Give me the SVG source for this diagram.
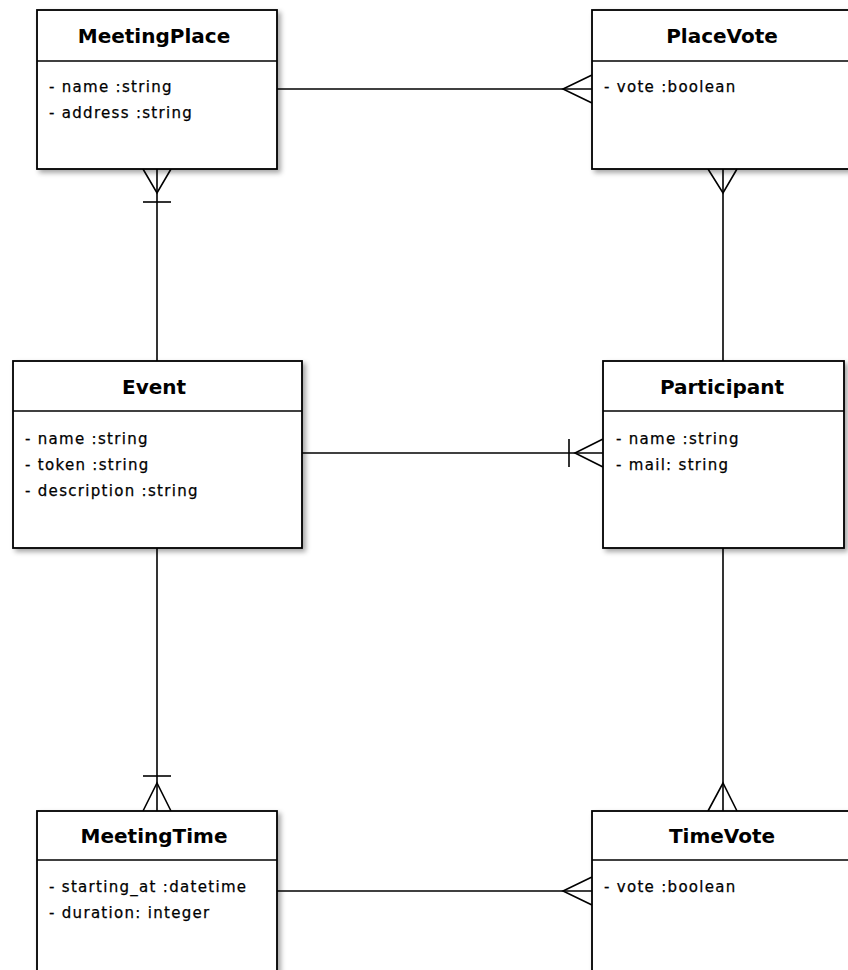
<svg xmlns="http://www.w3.org/2000/svg" width="848" height="970" viewBox="0 0 848 970">
  <defs>
    <filter id="shadow" x="-10%" y="-10%" width="130%" height="130%">
      <feDropShadow dx="3" dy="3" stdDeviation="2.5" flood-color="#000" flood-opacity="0.35"/>
    </filter>
    <style>
      .box { fill: #ffffff; stroke: #000000; stroke-width: 1.8; filter: url(#shadow); }
      .div { stroke: #000000; stroke-width: 1.6; fill: none; }
      .title { font-family: "DejaVu Sans", Verdana, sans-serif; font-weight: bold; font-size: 20px; fill: #000; text-anchor: middle; }
      .attr { font-family: "DejaVu Sans", Verdana, sans-serif; font-size: 15px; letter-spacing: 1.3px; fill: #000; stroke: #000; stroke-width: 0.25; }
      .conn { stroke: #000000; stroke-width: 1.6; fill: none; }
    </style>
  </defs>
  <rect width="848" height="970" fill="#ffffff"/>

  <g id="connectors">
    <!-- MeetingPlace - PlaceVote -->
    <line class="conn" x1="277" y1="89" x2="592" y2="89"/>
    <polyline class="conn" points="592,75 563,89 592,103"/>
    <!-- MeetingPlace - Event -->
    <line class="conn" x1="157" y1="169" x2="157" y2="361"/>
    <polyline class="conn" points="143,169 157,193 171,169"/>
    <line class="conn" x1="143" y1="202" x2="171" y2="202"/>
    <!-- PlaceVote - Participant -->
    <line class="conn" x1="723" y1="169" x2="723" y2="361"/>
    <polyline class="conn" points="708,169 723,193 737,169"/>
    <!-- Event - Participant -->
    <line class="conn" x1="302" y1="453" x2="603" y2="453"/>
    <polyline class="conn" points="603,439 575,453 603,467"/>
    <line class="conn" x1="569" y1="439" x2="569" y2="467"/>
    <!-- Event - MeetingTime -->
    <line class="conn" x1="157" y1="548" x2="157" y2="811"/>
    <polyline class="conn" points="143,811 157,783 171,811"/>
    <line class="conn" x1="143" y1="776" x2="171" y2="776"/>
    <!-- Participant - TimeVote -->
    <line class="conn" x1="723" y1="548" x2="723" y2="811"/>
    <polyline class="conn" points="708,811 723,783 737,811"/>
    <!-- MeetingTime - TimeVote -->
    <line class="conn" x1="277" y1="891" x2="592" y2="891"/>
    <polyline class="conn" points="592,877 563,891 592,905"/>
  </g>

  <g id="MeetingPlace">
    <rect class="box" x="37" y="10" width="240" height="159"/>
    <line class="div" x1="37" y1="61" x2="277" y2="61"/>
    <text class="title" x="154" y="43">MeetingPlace</text>
    <text class="attr" x="49" y="92">- name :string</text>
    <text class="attr" x="49" y="118">- address :string</text>
  </g>

  <g id="PlaceVote">
    <rect class="box" x="592" y="10" width="262" height="159"/>
    <line class="div" x1="592" y1="61" x2="854" y2="61"/>
    <text class="title" x="722" y="43">PlaceVote</text>
    <text class="attr" x="604" y="92">- vote :boolean</text>
  </g>

  <g id="Event">
    <rect class="box" x="13" y="361" width="289" height="187"/>
    <line class="div" x1="13" y1="411" x2="302" y2="411"/>
    <text class="title" x="154" y="394">Event</text>
    <text class="attr" x="25" y="444">- name :string</text>
    <text class="attr" x="25" y="470">- token :string</text>
    <text class="attr" x="25" y="496">- description :string</text>
  </g>

  <g id="Participant">
    <rect class="box" x="603" y="361" width="241" height="187"/>
    <line class="div" x1="603" y1="411" x2="844" y2="411"/>
    <text class="title" x="722" y="394">Participant</text>
    <text class="attr" x="616" y="444">- name :string</text>
    <text class="attr" x="616" y="470">- mail: string</text>
  </g>

  <g id="MeetingTime">
    <rect class="box" x="37" y="811" width="240" height="200"/>
    <line class="div" x1="37" y1="860" x2="277" y2="860"/>
    <text class="title" x="154" y="843">MeetingTime</text>
    <text class="attr" x="49" y="892">- starting_at :datetime</text>
    <text class="attr" x="49" y="918">- duration: integer</text>
  </g>

  <g id="TimeVote">
    <rect class="box" x="592" y="811" width="262" height="200"/>
    <line class="div" x1="592" y1="860" x2="854" y2="860"/>
    <text class="title" x="722" y="843">TimeVote</text>
    <text class="attr" x="604" y="892">- vote :boolean</text>
  </g>
</svg>
